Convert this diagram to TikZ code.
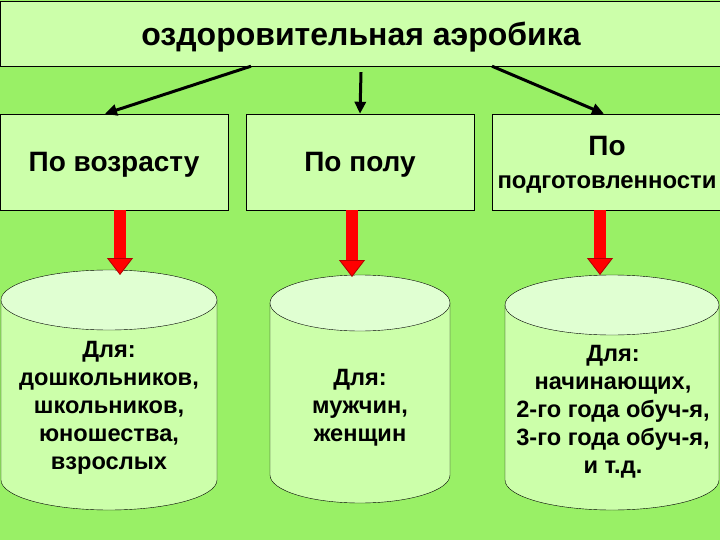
\documentclass[tikz,border=0pt]{standalone}
\usepackage{fontspec}
\setmainfont{Liberation Sans}
\usetikzlibrary{arrows.meta}
\definecolor{aerobg}{HTML}{99F066}
\definecolor{aerobox}{HTML}{CCFFAA}
\definecolor{aerotop}{HTML}{E0FFD2}
\definecolor{aerored}{HTML}{FF0000}
\definecolor{aerodark}{HTML}{B00000}
% cylinder: centre x, top y, bottom y, x radius, y radius
\newcommand\aerocyl[5]{%
  \filldraw[fill=aerobox,draw=black] (#1-#4,#2) -- (#1-#4,#3) arc[start angle=180,end angle=360,x radius=#4pt,y radius=#5pt] -- (#1+#4,#2);
  \filldraw[fill=aerotop,draw=black] (#1,#2) ellipse[x radius=#4pt,y radius=#5pt];}

\begin{document}
\begin{tikzpicture}[x=1pt,y=-1pt, every node/.style={font=\bfseries,align=center}]
\tikzset{box/.style={draw=black,fill=aerobox,minimum width=228pt,minimum height=96pt,inner sep=0pt,text depth=0pt,font=\bfseries\fontsize{28}{32}\selectfont}, cyltext/.style={font=\bfseries\fontsize{23.6}{28}\selectfont}, link/.style={-{Triangle[length=12pt,width=11pt]},line width=3pt}, redarrow/.style={draw=aerored,line width=12pt,-{Triangle[length=17pt,width=26pt,line width=0.8pt,color=aerodark,fill=aerored]}}}
\fill[aerobg] (0,0) rectangle (720,540);
\useasboundingbox (0,0) rectangle (720,540);
\node[box,minimum width=721pt,minimum height=65pt,font=\bfseries\fontsize{32}{36}\selectfont] (top) at (361,33.5) {оздоровительная аэробика};
\node[box] (age) at (114,162) {По возрасту};
\node[box] (sex) at (360,162) {По полу};
\node[box,minimum width=230pt] (prep) at (607,162) {По\\[1pt]{\fontsize{23.9}{29}\selectfont подготовленности}};
\draw[link] ([xshift=-110pt]top.south) -- ([xshift=-9pt]age.north);
\draw[link] ([yshift=-6pt]top.south) -- (sex.north);
\draw[link] ([xshift=131pt]top.south) -- ([xshift=-3pt]prep.north);
% cylinders
\aerocyl{109}{300}{480}{108}{30}
\aerocyl{360}{303}{475}{90}{28}
\aerocyl{612}{305}{480}{107}{30}
\coordinate (ageend) at (120,275);
\coordinate (sexend) at (352,277);
\coordinate (prepend) at (600,275);
\draw[redarrow] ([xshift=6pt]age.south) -- (ageend);
\draw[redarrow] ([xshift=-8pt]sex.south) -- (sexend);
\draw[redarrow] ([xshift=-7pt]prep.south) -- (prepend);
\node[cyltext] (agelist) at (109,408) {Для:\\дошкольников,\\школьников,\\юношества,\\взрослых};
\node[cyltext] (sexlist) at (360,408) {Для:\\мужчин,\\женщин};
\node[cyltext] (preplist) at (613,412) {Для:\\начинающих,\\2-го года обуч-я,\\3-го года обуч-я,\\и т.д.};
\end{tikzpicture}
\end{document}
